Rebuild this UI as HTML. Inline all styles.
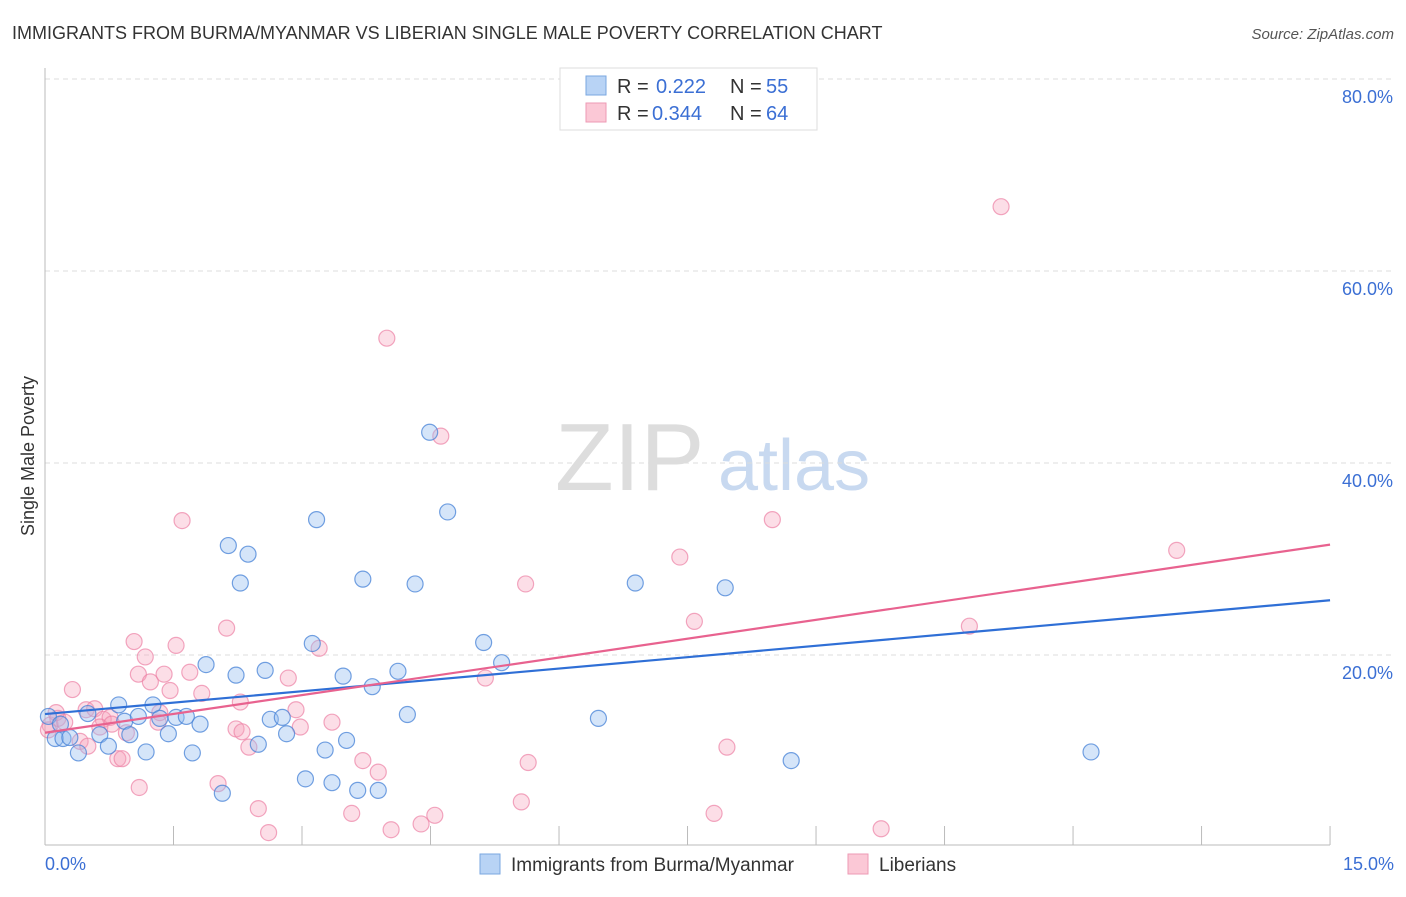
<!DOCTYPE html>
<html><head><meta charset="utf-8"><style>
body{margin:0;background:#fff;font-family:"Liberation Sans",sans-serif;}
svg text{font-family:"Liberation Sans",sans-serif;}
</style></head><body>
<svg id="chart" width="1406" height="892" xmlns="http://www.w3.org/2000/svg">
<text x="12" y="39" font-size="18" fill="#333">IMMIGRANTS FROM BURMA/MYANMAR VS LIBERIAN SINGLE MALE POVERTY CORRELATION CHART</text>
<text x="1394" y="39" font-size="15" fill="#555" font-style="italic" text-anchor="end">Source: ZipAtlas.com</text>
<text transform="translate(34,456) rotate(-90)" font-size="18" fill="#333" text-anchor="middle">Single Male Poverty</text>
<g>
<text x="555" y="490" font-size="96" fill="#ddd" font-family="Liberation Serif">ZIP</text>
<text x="718" y="490" font-size="72" fill="#c8d9f0">atlas</text>
</g>
<g id="grid"></g><g id="ticks"></g><g id="pts"></g><g id="lines"></g>
<g>
<rect x="560" y="68" width="257" height="62" fill="#fff" stroke="#ddd"/>
<rect x="586" y="76" width="20" height="19" fill="#b8d3f5" stroke="#7aa7e0"/>
<rect x="586" y="103" width="20" height="19" fill="#fbc8d6" stroke="#ee9ab4"/>
<text x="617" y="93" font-size="20" fill="#333">R = </text><text x="656" y="93" font-size="20" fill="#3b6fd4">0.222</text>
<text x="730" y="93" font-size="20" fill="#333">N = </text><text x="766" y="93" font-size="20" fill="#3b6fd4">55</text>
<text x="617" y="120" font-size="20" fill="#333">R = </text><text x="652" y="120" font-size="20" fill="#3b6fd4">0.344</text>
<text x="730" y="120" font-size="20" fill="#333">N = </text><text x="766" y="120" font-size="20" fill="#3b6fd4">64</text>
</g>
<g>
<rect x="480" y="854" width="20" height="20" fill="#b8d3f5" stroke="#7aa7e0"/>
<text x="511" y="871" font-size="19" fill="#333">Immigrants from Burma/Myanmar</text>
<rect x="848" y="854" width="20" height="20" fill="#fbc8d6" stroke="#ee9ab4"/>
<text x="879" y="871" font-size="19" fill="#333">Liberians</text>
</g>
</svg>
<script>
const xTicks=[0,1.5,3,4.5,6,7.5,9,10.5,12,13.5,15];
const yTicks=[20,40,60,80];
const blueX=[0.12,0.21,0.29,0.39,0.5,0.64,0.74,0.86,0.93,0.99,1.09,1.18,1.26,1.34,1.44,1.53,1.65,1.72,1.81,1.88,2.07,2.23,2.28,2.14,2.37,2.49,2.57,2.63,2.77,2.82,3.04,3.12,3.17,3.27,3.35,3.48,3.52,3.65,3.71,3.82,3.89,4.12,4.23,4.32,4.49,4.70,5.12,5.33,6.46,6.89,7.94,8.71,12.21,0.04,0.18];
const blueY=[11.3,11.3,11.4,9.8,13.9,11.7,10.5,14.8,13.1,11.7,13.6,9.9,14.8,13.4,11.8,13.5,13.6,9.8,12.8,19.0,5.6,17.9,27.5,31.4,30.5,10.7,18.4,13.3,13.5,11.8,7.1,21.2,34.1,10.1,6.7,17.8,11.1,5.9,27.9,16.7,5.9,18.3,13.8,27.4,43.2,34.9,21.3,19.2,13.4,27.5,27.0,9.0,9.9,13.6,12.8];
const pinkX=[0.06,0.15,0.23,0.32,0.41,0.48,0.58,0.68,0.76,0.85,0.90,0.95,1.09,1.04,1.10,1.17,1.23,1.32,1.39,1.46,1.53,1.60,1.69,1.83,2.02,2.12,2.23,2.30,2.38,2.49,2.61,2.84,2.93,2.98,3.20,3.35,3.58,3.71,3.89,3.99,4.04,4.39,4.55,4.62,5.14,5.61,5.64,5.56,7.41,7.58,7.81,7.96,8.49,9.76,10.79,11.16,13.21,0.04,0.13,0.50,0.64,0.78,1.34,2.28];
const pinkY=[12.7,13.4,13.0,16.4,11.0,14.3,14.4,13.3,13.5,9.2,9.2,11.9,18.0,21.4,6.2,19.8,17.2,13.0,18.0,16.3,21.0,34.0,18.2,16.0,6.6,22.8,12.3,12.0,10.4,4.0,1.5,17.6,14.3,12.5,20.7,13.0,3.5,9.0,7.8,53.0,1.8,2.4,3.3,42.8,17.6,27.4,8.8,4.7,30.2,23.5,3.5,10.4,34.1,1.9,23.0,66.7,30.9,12.2,14.0,10.5,12.5,12.8,14.0,15.1];
const blueLine=[13.85,25.7], pinkLine=[11.9,31.5];
const NS='http://www.w3.org/2000/svg';
const X=v=>45+v*85.67, Y=v=>847-v*9.6;
function mk(t,a,p){const e=document.createElementNS(NS,t);for(const k in a)e.setAttribute(k,a[k]);p.appendChild(e);return e;}
const grid=document.getElementById('grid'),ticks=document.getElementById('ticks'),pts=document.getElementById('pts'),lines=document.getElementById('lines');
yTicks.forEach(v=>{
 const l=mk('line',{x1:45,x2:1394,y1:Y(v),y2:Y(v),stroke:'#ddd','stroke-dasharray':'5,4'},grid);
 
 
 const t=mk('text',{x:1393,y:Y(v)+24,'font-size':18,fill:'#3b6fd4','text-anchor':'end'},ticks);
 t.textContent=v.toFixed(1)+'%';
 
 
});
const ax=mk('line',{x1:45,x2:1330,y1:845,y2:845,stroke:'#bbb'},ticks);


const ay=mk('line',{x1:45,x2:45,y1:68,y2:845,stroke:'#bbb'},ticks);


xTicks.slice(1).forEach(v=>{
 const l=mk('line',{x1:X(v),x2:X(v),y1:826,y2:845,stroke:'#bbb'},ticks);
 
 
});
[[0,'start',45],[15,'end',1394]].forEach(([v,a,x])=>{
 const t=mk('text',{x:x,y:870,'font-size':18,fill:'#3b6fd4','text-anchor':a},ticks);
 t.textContent=v.toFixed(1)+'%';
 
 
});
pinkX.forEach((x,i)=>{
 const c=mk('circle',{cx:X(x),cy:Y(pinkY[i]),r:8,fill:'rgba(246,160,185,0.35)',stroke:'rgba(236,130,165,0.7)','stroke-width':1.2},pts);
 
 
});
blueX.forEach((x,i)=>{
 const c=mk('circle',{cx:X(x),cy:Y(blueY[i]),r:8,fill:'rgba(150,190,240,0.4)',stroke:'rgba(70,130,215,0.75)','stroke-width':1.2},pts);
 
 
});
const bl=mk('line',{x1:X(0),y1:Y(blueLine[0]),x2:X(15),y2:Y(blueLine[1]),stroke:'#2f6fd6','stroke-width':2.2},lines);


const pl=mk('line',{x1:X(0),y1:Y(pinkLine[0]),x2:X(15),y2:Y(pinkLine[1]),stroke:'#e8628f','stroke-width':2.2},lines);


</script>
</body></html>
